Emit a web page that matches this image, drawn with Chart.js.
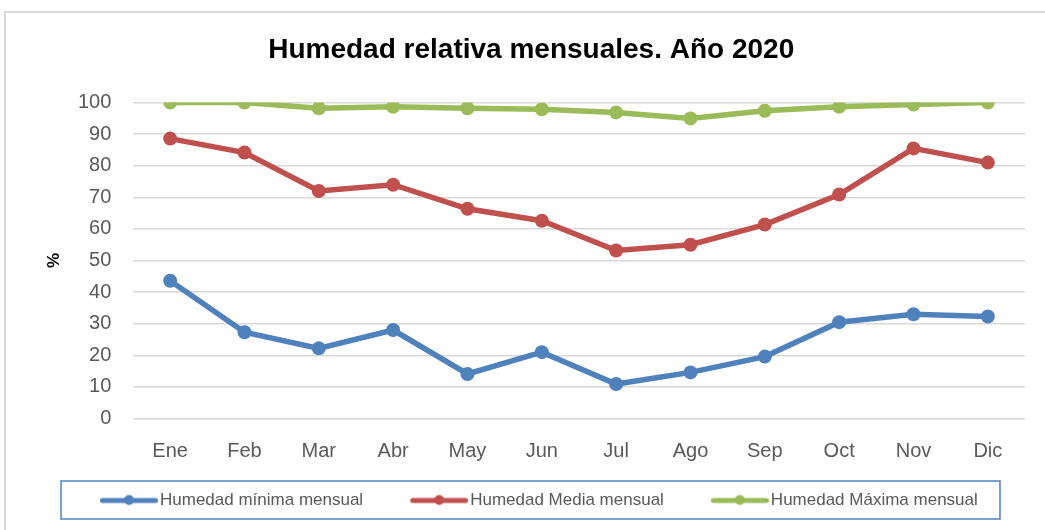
<!DOCTYPE html>
<html>
<head>
<meta charset="utf-8">
<script src="https://cdn.jsdelivr.net/npm/chart.js@4/dist/chart.umd.min.js"></script>
<style>
  body { margin: 0; background: #fff; }
  #wrap { position: absolute; left: 0; top: 0; width: 1045px; height: 530px; }
  #frame { position: absolute; left: 4px; top: 11px; width: 1100px; height: 600px;
           border-left: 2px solid #d9d9d9; border-top: 2px solid #d9d9d9; }
</style>
</head>
<body>
<div id="frame"></div>
<div id="wrap"><canvas id="humChart"></canvas></div>
<script>
// monthly relative humidity, 2020
const months = ["Ene", "Feb", "Mar", "Abr", "May", "Jun", "Jul", "Ago", "Sep", "Oct", "Nov", "Dic"];
const humMin = [43.6, 27.3, 22.2, 28.0, 14.1, 21.0, 10.9, 14.6, 19.6, 30.5, 33.0, 32.3];
const humMedia = [88.6, 84.2, 72.0, 74.0, 66.4, 62.6, 53.2, 55.0, 61.4, 70.9, 85.5, 81.0];
const humMax = [100, 100, 98.2, 98.7, 98.2, 97.9, 96.9, 95.0, 97.4, 98.7, 99.4, 100];
const yTicks = [0, 10, 20, 30, 40, 50, 60, 70, 80, 90, 100];

const blue = "#4f81bd";
const red = "#c0504d";
const green = "#9bbb59";

// line-with-dot marker for the legend; drawn at the right end of a wide
// canvas so it sits next to the label and leaves room before it
function legendMarker(color) {
  const c = document.createElement("canvas");
  c.width = 104;
  c.height = 14;
  const g = c.getContext("2d");
  g.strokeStyle = color;
  g.lineWidth = 5;
  g.lineCap = "round";
  g.beginPath();
  g.moveTo(48.5, 7);
  g.lineTo(101.5, 7);
  g.stroke();
  g.fillStyle = color;
  g.beginPath();
  g.arc(75, 6.5, 5, 0, Math.PI * 2);
  g.fill();
  return c;
}

function makeSet(label, data, color) {
  return {
    label: label,
    data: data,
    borderColor: color,
    backgroundColor: color,
    borderWidth: 5.5,
    pointRadius: 7,
    pointHoverRadius: 7,
    pointBackgroundColor: color,
    pointBorderWidth: 0,
    pointStyle: "circle",
    tension: 0,
    marker: legendMarker(color),
  };
}

// box around the legend
const legendBox = {
  id: "legendBox",
  afterDraw(chart) {
    const boxes = chart.legend.legendHitBoxes;
    if (!boxes || !boxes.length) return;
    const ctx = chart.ctx;
    const mid = boxes[0].top + boxes[0].height / 2;
    ctx.save();
    ctx.strokeStyle = blue;
    ctx.lineWidth = 1.5;
    ctx.strokeRect(61, mid - 19.5, 939, 38);
    ctx.restore();
  },
};

const ctx = document.getElementById("humChart").getContext("2d");

new Chart(ctx, {
  type: "line",
  data: {
    labels: months,
    datasets: [
      makeSet("Humedad mínima mensual", humMin, blue),
      makeSet("Humedad Media mensual", humMedia, red),
      makeSet("Humedad Máxima mensual", humMax, green),
    ],
  },
  options: {
    responsive: true,
    maintainAspectRatio: false,
    animation: false,
    layout: { padding: { left: 53, right: 20, top: 0, bottom: 11 } },
    plugins: {
      title: {
        display: true,
        text: "Humedad relativa mensuales. Año 2020  ",
        color: "#000",
        font: { family: "Liberation Sans", size: 28, weight: "bold" },
        padding: { top: 33, bottom: 36 },
      },
      legend: {
        position: "bottom",
        align: "start",
        labels: {
          usePointStyle: true,
          pointStyleWidth: 91,
          boxHeight: 14,
          padding: 7.5,
          color: "#595959",
          font: { family: "Liberation Sans", size: 17 },
          generateLabels(chart) {
            return chart.data.datasets.map((ds, i) => ({
              text: ds.label,
              pointStyle: ds.marker,
              fillStyle: ds.borderColor,
              strokeStyle: ds.borderColor,
              lineWidth: 0,
              hidden: false,
              datasetIndex: i,
              fontColor: "#595959",
            }));
          },
        },
      },
      tooltip: { enabled: false },
    },
    scales: {
      x: {
        offset: true,
        grid: { display: false, drawTicks: false },
        border: { display: false },
        ticks: {
          color: "#595959",
          font: { family: "Liberation Sans", size: 20, lineHeight: 1.4 },
          padding: 19,
        },
      },
      y: {
        min: 0,
        max: 100,
        afterBuildTicks(axis) {
          axis.ticks = yTicks.map((v) => ({ value: v }));
        },
        grid: { color: "#d9d9d9", lineWidth: 1.5, drawTicks: false },
        border: { display: false },
        ticks: {
          color: "#595959",
          font: { family: "Liberation Sans", size: 20 },
          padding: 21.6,
        },
        title: {
          display: true,
          text: "%",
          color: "#000",
          font: { family: "Liberation Sans", size: 17, weight: "bold", lineHeight: 0.2 },
          padding: 0,
        },
      },
    },
  },
  plugins: [legendBox],
});
</script>
</body>
</html>
